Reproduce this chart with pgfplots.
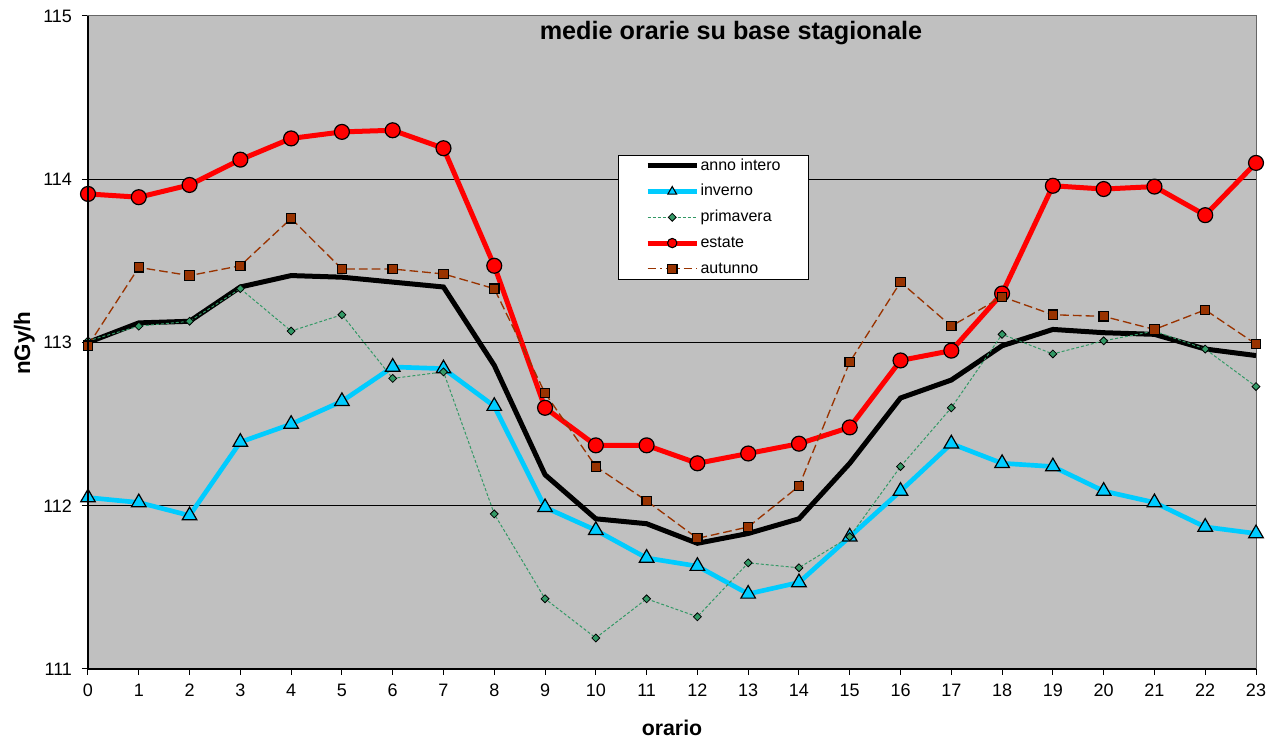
\documentclass[border=0pt]{standalone}
\usepackage{fontspec}
\setmainfont{Liberation Sans}
\usepackage{pgfplots}
\pgfplotsset{compat=1.18}
\definecolor{bggray}{HTML}{C0C0C0}
\definecolor{cyanx}{HTML}{00CCFF}
\definecolor{greenx}{HTML}{339966}
\definecolor{brownx}{HTML}{993300}
\definecolor{redx}{HTML}{FF0000}
\newcommand{\tickfont}{\fontsize{13.5}{15}\selectfont}
\begin{document}
\begin{tikzpicture}
\useasboundingbox (-66pt,-54.75pt) rectangle (887.25pt,501.75pt);
\begin{axis}[
  scale only axis,
  width=876pt, height=489.75pt,
  xmin=0, xmax=23, ymin=111, ymax=115,
  xtick={0,...,23}, ytick={111,112,113,114,115},
  tick pos=left, tick align=outside,
  major tick length=4.5pt,
  tick style={black, line width=0.75pt},
  /pgf/number format/assume math mode=true,
  xticklabel={\tickfont\pgfmathprintnumber{\tick}},
  yticklabel={\tickfont\pgfmathprintnumber{\tick}},
  yticklabel style={xshift=-4pt},
  xticklabel style={yshift=-3.5pt},
  ymajorgrids, grid style={black, line width=0.75pt},
  axis background/.style={fill=bggray},
  axis line style={draw=gray!80!black, line width=0.75pt},
  title={\fontsize{18.9}{22}\selectfont\bfseries medie orarie su base stagionale},
  title style={at={(axis description cs:0.5505,0.962)}, anchor=center},
  xlabel={\fontsize{16}{19}\selectfont\bfseries orario},
  xlabel style={at={(axis description cs:0.5,-0.0904)}, anchor=center},
  ylabel={\fontsize{16.8}{19}\selectfont\bfseries nGy/h},
  ylabel style={at={(axis description cs:-0.0545,0.499)}, anchor=center, rotate=0},
  legend style={at={(axis description cs:0.4538,0.7871)}, anchor=north west,
    draw=black, line width=0.75pt, fill=white,
    inner xsep=20pt, inner ysep=0.5pt, row sep=4.8pt,
    font=\fontsize{12}{14}\selectfont,
    nodes={inner xsep=1pt, inner ysep=1.5pt, text height=9pt, text depth=2.5pt}},
  legend cell align=left,
  legend image code/.code={\draw[mark repeat=2,mark phase=2,#1] plot coordinates {(0pt,0pt) (18.4pt,0pt) (36.75pt,0pt)};},
  after end axis/.code={\draw[black, line width=1.6pt] (rel axis cs:0,1) -- (rel axis cs:0,0) -- (rel axis cs:1,0);},
]
\addplot[forget plot, black, line width=3.75pt, no markers] coordinates {
(0,113.00) (1,113.12) (2,113.13) (3,113.34) (4,113.41) (5,113.40) (6,113.37) (7,113.34)
(8,112.86) (9,112.19) (10,111.92) (11,111.89) (12,111.77) (13,111.83) (14,111.92) (15,112.26)
(16,112.66) (17,112.77) (18,112.98) (19,113.08) (20,113.06) (21,113.05) (22,112.96) (23,112.92)};
\addlegendimage{black, line width=3.75pt, no markers}
\addlegendentry{anno intero}
\addplot[forget plot, cyanx, line width=3.5pt, mark=triangle*, mark size=6.3pt,
  mark options={solid, fill=cyanx, draw=black, line width=0.9pt}] coordinates {
(0,112.05) (1,112.02) (2,111.94) (3,112.39) (4,112.50) (5,112.64) (6,112.85) (7,112.84)
(8,112.61) (9,111.99) (10,111.85) (11,111.68) (12,111.63) (13,111.46) (14,111.53) (15,111.81)
(16,112.09) (17,112.38) (18,112.26) (19,112.24) (20,112.09) (21,112.02) (22,111.87) (23,111.83)};
\addlegendimage{cyanx, line width=3.5pt, mark=triangle*, mark size=3.8pt,
  mark options={solid, fill=cyanx, draw=black, line width=0.8pt}}
\addlegendentry{inverno}
\addplot[forget plot, greenx, line width=0.75pt, dash pattern=on 2.25pt off 1.5pt, mark=square*, mark size=2.1pt,
  mark options={solid, rotate=45, fill=greenx, draw=black, line width=0.6pt}] coordinates {
(0,113.01) (1,113.10) (2,113.13) (3,113.33) (4,113.07) (5,113.17) (6,112.78) (7,112.82)
(8,111.95) (9,111.43) (10,111.19) (11,111.43) (12,111.32) (13,111.65) (14,111.62) (15,111.81)
(16,112.24) (17,112.60) (18,113.05) (19,112.93) (20,113.01) (21,113.07) (22,112.96) (23,112.73)};
\addlegendimage{greenx, line width=0.75pt, dash pattern=on 2.25pt off 1.5pt, mark=square*, mark size=2.1pt,
  mark options={solid, rotate=45, fill=greenx, draw=black, line width=0.6pt}}
\addlegendentry{primavera}
\addplot[forget plot, redx, line width=3.75pt, mark=*, mark size=5.6pt,
  mark options={solid, fill=redx, draw=black, line width=0.9pt}] coordinates {
(0,113.91) (1,113.89) (2,113.965) (3,114.12) (4,114.25) (5,114.29) (6,114.30) (7,114.19)
(8,113.47) (9,112.60) (10,112.37) (11,112.37) (12,112.26) (13,112.32) (14,112.38) (15,112.48)
(16,112.89) (17,112.95) (18,113.30) (19,113.96) (20,113.94) (21,113.955) (22,113.78) (23,114.10)};
\addlegendimage{redx, line width=3.75pt, mark=*, mark size=3.5pt,
  mark options={solid, fill=redx, draw=black, line width=0.8pt}}
\addlegendentry{estate}
\addplot[forget plot, brownx, line width=1pt, dash pattern=on 6.5pt off 3pt, mark=square*, mark size=3.5pt,
  mark options={solid, fill=brownx, draw=black, line width=0.9pt}] coordinates {
(0,112.98) (1,113.46) (2,113.41) (3,113.47) (4,113.76) (5,113.45) (6,113.45) (7,113.42)
(8,113.33) (9,112.69) (10,112.24) (11,112.03) (12,111.80) (13,111.87) (14,112.12) (15,112.88)
(16,113.37) (17,113.10) (18,113.28) (19,113.17) (20,113.16) (21,113.08) (22,113.20) (23,112.99)};
\addlegendimage{brownx, line width=1pt, dash pattern=on 6.5pt off 3pt on 1pt off 3pt, mark=square*, mark size=3.5pt,
  mark options={solid, fill=brownx, draw=black, line width=0.9pt}}
\addlegendentry{autunno}
\end{axis}
\end{tikzpicture}
\end{document}
